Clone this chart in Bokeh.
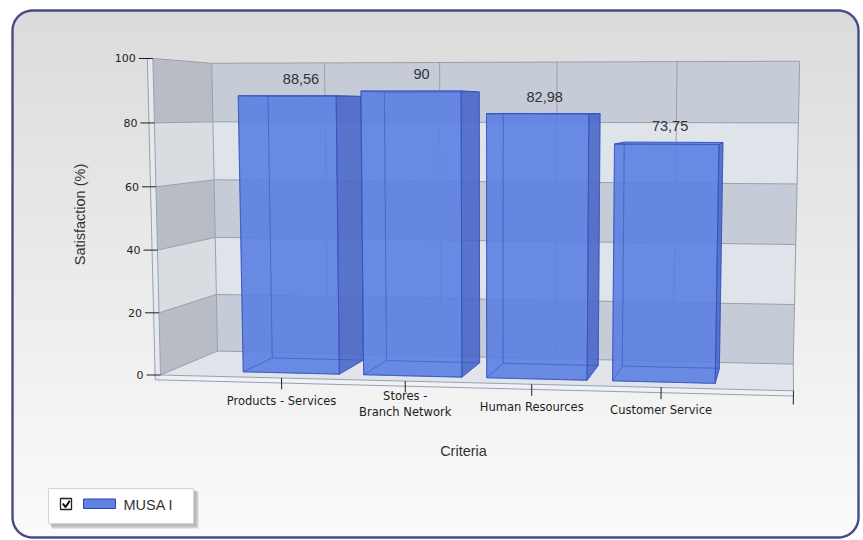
import numpy as np
from bokeh.plotting import figure
from bokeh.models import Range1d
from bokeh.core.properties import value
from bokeh.embed import file_html
from bokeh.resources import INLINE

# ---- data -----------------------------------------------------------------
categories = ["Products - Services", "Stores -\nBranch Network", "Human Resources", "Customer Service"]
satisfaction = [88.56, 90.0, 82.98, 73.75]
value_labels = ["88,56", "90", "82,98", "73,75"]
y_ticks = [0, 20, 40, 60, 80, 100]
series_name = "MUSA I"
x_title = "Criteria"
y_title = "Satisfaction (%)"

# ---- layout / 3D scene ----------------------------------------------------
W, H = 863, 540
N_SLOTS = len(categories) + 1        # category axis runs 0..5, bars sit at 1..4
BAR_HALF = 0.4
BAR_Z0, BAR_Z1 = 0.19, 0.76          # bar depth inside the box (0 front, 1 back)
WALL_T = 0.045                        # left wall thickness (category units)
FLOOR_T = 1.6                         # floor slab thickness (value units)

# perspective camera: (category pos, value, depth) -> page pixels
CAM = np.array([[117.93, -0.1102, 78.6, 160.0],
                [-1.11, -3.178, 10.94, 374.5],
                [-0.01094, -0.0002222, 0.0995, 1.0]])
_, _, vt = np.linalg.svd(CAM)
EYE = vt[-1][:3] / vt[-1][3]


def proj(x, y, z):
    h = CAM @ np.array([x, y, z, 1.0])
    return float(h[0] / h[2]), float(h[1] / h[2])


def face(pts):
    xy = [proj(*q) for q in pts]
    return [a for a, _ in xy], [b for _, b in xy]


def seg(p0, p1):
    a, b = proj(*p0), proj(*p1)
    return [a[0], b[0]], [a[1], b[1]]


p = figure(width=W, height=H, x_range=Range1d(0, W), y_range=Range1d(H, 0),
           output_backend="svg", toolbar_location=None, min_border=0)
p.axis.visible = False
p.grid.visible = False
p.outline_line_color = None
p.background_fill_color = "white"
p.border_fill_color = "white"

# ---- rounded panel with vertical gradient -----------------------------------
PX0, PY0, PX1, PY1, PR = 12, 10, 858, 537, 20


def inset(y):
    if y < PY0 + PR:
        d = PY0 + PR - y
    elif y > PY1 - PR:
        d = y - (PY1 - PR)
    else:
        return 0.0
    d = min(d, PR)
    return PR - np.sqrt(PR * PR - d * d)


def mix(c0, c1, t):
    return "#%02x%02x%02x" % tuple(int(round(a + (b - a) * t)) for a, b in zip(c0, c1))


sx, sy, sc = [], [], []
for ya in np.arange(PY0, PY1, 2.0):
    yb = min(ya + 2.6, PY1)
    sx.append([PX0 + inset(ya), PX1 - inset(ya), PX1 - inset(yb), PX0 + inset(yb)])
    sy.append([ya, ya, yb, yb])
    sc.append(mix((219, 219, 219), (251, 251, 251), (ya - PY0) / (PY1 - PY0)))
p.patches(sx, sy, fill_color=sc, line_color=None)

bx, by = [], []
for cx, cy, a0 in [(PX1 - PR, PY0 + PR, -np.pi / 2), (PX1 - PR, PY1 - PR, 0.0),
                   (PX0 + PR, PY1 - PR, np.pi / 2), (PX0 + PR, PY0 + PR, np.pi)]:
    for a in np.linspace(a0, a0 + np.pi / 2, 12):
        bx.append(cx + PR * np.cos(a))
        by.append(cy + PR * np.sin(a))
bx.append(bx[0]); by.append(by[0])
p.line(bx, by, line_color="#464b87", line_width=2.4)

# ---- walls and floor ----------------------------------------------------------
GRID = "#98a0ab"
wx, wy, wc = [], [], []
for k in range(len(y_ticks) - 1):
    ya, yb = y_ticks[k], y_ticks[k + 1]
    xs, ys = face([(0, ya, 1), (N_SLOTS, ya, 1), (N_SLOTS, yb, 1), (0, yb, 1)])
    wx.append(xs); wy.append(ys)
    wc.append("#c5ccd7" if k % 2 == 0 else "#dfe3ea")
    xs, ys = face([(0, ya, 0), (0, ya, 1), (0, yb, 1), (0, yb, 0)])
    wx.append(xs); wy.append(ys)
    wc.append("#b8bdc5" if k % 2 == 0 else "#d9dce1")
p.patches(wx, wy, fill_color=wc, line_color=None)

# floor top, floor slab front, left wall slab front
xs, ys = face([(0, 0, 0), (N_SLOTS, 0, 0), (N_SLOTS, 0, 1), (0, 0, 1)])
p.patch(xs, ys, fill_color="#e1e5eb", line_color=None)
xs, ys = face([(-WALL_T, -FLOOR_T, 0), (N_SLOTS, -FLOOR_T, 0), (N_SLOTS, 0, 0), (-WALL_T, 0, 0)])
p.patch(xs, ys, fill_color="#eef1f5", line_color=None)
xs, ys = face([(-WALL_T, -FLOOR_T, 0), (0, -FLOOR_T, 0), (0, y_ticks[-1], 0), (-WALL_T, y_ticks[-1], 0)])
p.patch(xs, ys, fill_color="#e6eaf0", line_color=None)

gx, gy = [], []
for t in y_ticks:
    for a, b in [((0, t, 0), (0, t, 1)), ((0, t, 1), (N_SLOTS, t, 1))]:
        xs, ys = seg(a, b); gx.append(xs); gy.append(ys)
for i in range(1, N_SLOTS + 1):
    xs, ys = seg((i, 0, 1), (i, y_ticks[-1], 1)); gx.append(xs); gy.append(ys)
for a, b in [((0, 0, 1), (0, y_ticks[-1], 1)), ((0, 0, 0), (0, y_ticks[-1], 0)),
             ((N_SLOTS, 0, 0), (N_SLOTS, 0, 1)), ((0, 0, 0), (N_SLOTS, 0, 0)),
             ((-WALL_T, -FLOOR_T, 0), (N_SLOTS, -FLOOR_T, 0)),
             ((-WALL_T, -FLOOR_T, 0), (-WALL_T, y_ticks[-1], 0)),
             ((-WALL_T, y_ticks[-1], 0), (0, y_ticks[-1], 0))]:
    xs, ys = seg(a, b); gx.append(xs); gy.append(ys)
p.multi_line(gx, gy, line_color=GRID, line_width=1)

# ---- bars -------------------------------------------------------------------
EDGE = "#3553c4"
for i, v in enumerate(satisfaction):
    xc = i + 1
    x0, x1 = xc - BAR_HALF, xc + BAR_HALF
    z0, z1 = BAR_Z0, BAR_Z1
    faces = [
        ([(x0, 0, z1), (x1, 0, z1), (x1, v, z1), (x0, v, z1)], (0, 0, 1), (xc, v / 2, z1), "#4d6dd6"),
        ([(x0, 0, z0), (x0, 0, z1), (x0, v, z1), (x0, v, z0)], (-1, 0, 0), (x0, v / 2, (z0 + z1) / 2), "#4d6dd6"),
        ([(x0, 0, z0), (x1, 0, z0), (x1, 0, z1), (x0, 0, z1)], (0, -1, 0), (xc, 0, (z0 + z1) / 2), "#4d6dd6"),
        ([(x0, v, z0), (x1, v, z0), (x1, v, z1), (x0, v, z1)], (0, 1, 0), (xc, v, (z0 + z1) / 2), "#7090ea"),
        ([(x1, 0, z0), (x1, 0, z1), (x1, v, z1), (x1, v, z0)], (1, 0, 0), (x1, v / 2, (z0 + z1) / 2), "#4a67c8"),
        ([(x0, 0, z0), (x1, 0, z0), (x1, v, z0), (x0, v, z0)], (0, 0, -1), (xc, v / 2, z0), "#5b7fe1"),
    ]
    vis, hid = [], []
    for pts, nrm, ctr, col in faces:
        (vis if np.dot(EYE - np.array(ctr), nrm) > 0 else hid).append((pts, col))
    vx, vy, vc = [], [], []
    for pts, col in vis:
        xs, ys = face(pts); vx.append(xs); vy.append(ys); vc.append(col)
    p.patches(vx, vy, fill_color=vc, fill_alpha=0.9, line_color=None)
    hx, hy = [], []
    for pts, col in hid:
        xs, ys = face(pts + [pts[0]]); hx.append(xs); hy.append(ys)
    p.multi_line(hx, hy, line_color=EDGE, line_alpha=0.35, line_width=1)
    ox, oy = [], []
    for pts, col in vis:
        xs, ys = face(pts + [pts[0]]); ox.append(xs); oy.append(ys)
    p.multi_line(ox, oy, line_color=EDGE, line_alpha=0.85, line_width=1)

# value labels above each bar
lx, ly = [], []
for i, v in enumerate(satisfaction):
    x, y = proj(i + 1, v, (BAR_Z0 + BAR_Z1) / 2)
    lx.append(x); ly.append(y - 17)
p.text(lx, ly, text=value_labels, text_font=value("Liberation Sans"), text_font_size="14.5px",
       text_color="#333333", text_align="center", text_baseline="middle")

# ---- axes -------------------------------------------------------------------
tx, ty = [], []
for t in y_ticks:
    x, y = proj(0, t, 0)
    tx.append([x - 14, x]); ty.append([y, y])
for i in range(1, N_SLOTS + 1):
    xs, ys = seg((i, 0, 0), (i, -3.6 if i < N_SLOTS else -4.2, 0))
    tx.append(xs); ty.append(ys)
p.multi_line(tx, ty, line_color="#1e1e1e", line_width=1)

ylx, yly = [], []
for t in y_ticks:
    x, y = proj(0, t, 0)
    ylx.append(x - 17); yly.append(y)
p.text(ylx, yly, text=[str(t) for t in y_ticks], text_font=value("DejaVu Sans"), text_font_size="11px",
       text_color="#222222", text_align="right", text_baseline="middle")

clx, cly = [], []
for i in range(len(categories)):
    x, y = proj(i + 1, 0, 0)
    clx.append(x); cly.append(y + 22.5)
p.text(clx, cly, text=categories, text_font=value("DejaVu Sans"), text_font_size="11.5px",
       text_color="#1e1e1e", text_align="center", text_baseline="middle", text_line_height=1.15)

p.text([463], [450], text=[x_title], text_font=value("Liberation Sans"), text_font_size="14.5px",
       text_color="#333333", text_align="center", text_baseline="middle")
p.text([79], [214], text=[y_title], text_font=value("Liberation Sans"), text_font_size="14.5px",
       text_color="#333333", text_align="center", text_baseline="middle", angle=np.pi / 2)

# ---- legend -----------------------------------------------------------------
p.quad(left=[51], right=[198], top=[491], bottom=[528], fill_color="#8a8a8a", fill_alpha=0.35, line_color=None)
p.quad(left=[50], right=[196], top=[490], bottom=[526], fill_color="#8a8a8a", fill_alpha=0.35, line_color=None)
p.quad(left=[48], right=[193], top=[488], bottom=[523], fill_color="white", line_color="#d4d4d4")
p.quad(left=[60], right=[71], top=[498], bottom=[509], fill_color="white", line_color="#222222", line_width=1.3)
p.line([62.3, 65, 69.3], [503, 506.6, 500.2], line_color="#111111", line_width=2)
p.quad(left=[83], right=[115], top=[498.5], bottom=[508], fill_color="#5f82e3", line_color="#2f45a8")
p.text([123], [504], text=[series_name], text_font=value("Liberation Sans"), text_font_size="14.5px",
       text_color="#333333", text_align="left", text_baseline="middle")

open("out.html", "w").write(file_html(p, INLINE))
